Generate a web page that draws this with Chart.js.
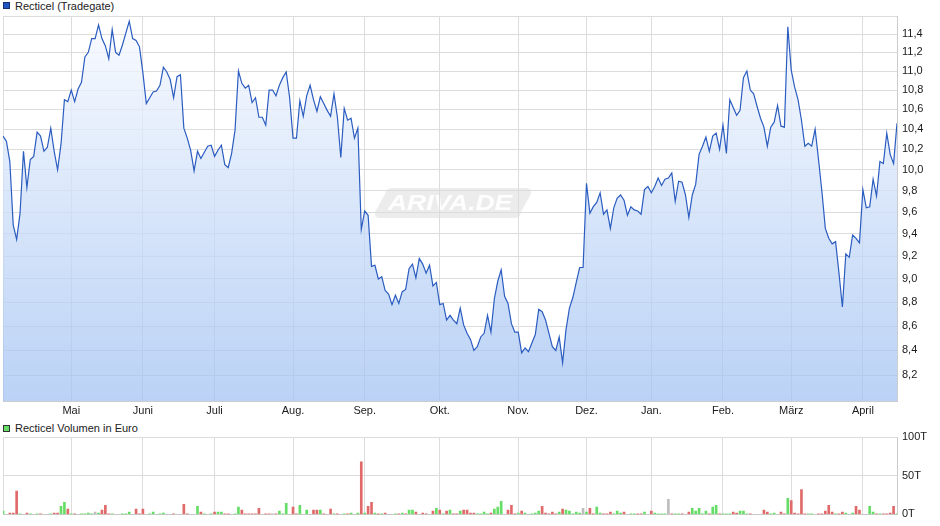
<!DOCTYPE html>
<html><head><meta charset="utf-8">
<script src="https://cdn.jsdelivr.net/npm/chart.js@4/dist/chart.umd.min.js"></script>
<style>
html,body{margin:0;padding:0;background:#fff;}
body{width:940px;height:526px;position:relative;overflow:hidden;font-family:"Liberation Sans",Arial,sans-serif;}
canvas{position:absolute;left:0;}
#c1{top:0;width:940px;height:420px;}
#c2{top:420px;width:940px;height:106px;}
.lg{position:absolute;left:15px;font-size:11px;color:#222;line-height:13px;white-space:nowrap;}
.sq{position:absolute;left:3px;width:5px;height:5px;border:1px solid #333;}
</style></head>
<body>
<div class="sq" style="top:2px;background:#1f55c0;border-color:#15306e"></div>
<div class="lg" style="top:0px">Recticel (Tradegate)</div>
<div class="sq" style="top:425px;background:#66dd66;border-color:#333"></div>
<div class="lg" style="top:422px">Recticel Volumen in Euro</div>
<canvas id="c1" width="940" height="420"></canvas>
<canvas id="c2" width="940" height="106"></canvas>
<script>
const priceValues = [
10.33,10.28,10.08,9.48,9.35,9.59,10.18,9.83,10.10,10.13,
10.37,10.33,10.18,10.22,10.41,10.18,10.00,10.25,10.70,10.68,
10.80,10.68,10.81,10.88,11.15,11.20,11.35,11.35,11.50,11.35,
11.27,11.13,11.45,11.20,11.17,11.28,11.41,11.54,11.35,11.33,
11.26,10.98,10.66,10.72,10.78,10.79,10.85,11.04,10.99,10.91,
10.72,10.94,10.96,10.41,10.31,10.19,9.99,10.18,10.11,10.17,
10.23,10.24,10.13,10.19,10.24,10.05,10.02,10.16,10.39,11.00,
10.87,10.82,10.85,10.67,10.72,10.52,10.52,10.44,10.80,10.80,
10.74,10.85,10.93,10.99,10.72,10.31,10.31,10.69,10.53,10.74,
10.85,10.70,10.58,10.73,10.66,10.59,10.53,10.76,10.52,10.12,
10.61,10.49,10.51,10.31,10.41,9.44,9.61,9.57,9.11,9.12,
9.00,9.02,8.90,8.87,8.78,8.86,8.79,8.89,8.91,9.09,
9.13,9.01,9.18,9.13,9.05,9.12,8.94,8.97,8.78,8.79,
8.65,8.69,8.65,8.62,8.75,8.61,8.54,8.49,8.40,8.43,
8.51,8.54,8.69,8.55,8.83,8.98,9.08,8.85,8.79,8.62,
8.55,8.55,8.38,8.42,8.39,8.46,8.53,8.74,8.72,8.65,
8.54,8.43,8.40,8.51,8.30,8.57,8.75,8.84,8.97,9.10,
9.10,9.87,9.59,9.65,9.69,9.78,9.58,9.62,9.45,9.64,
9.73,9.76,9.71,9.57,9.65,9.62,9.61,9.58,9.81,9.84,
9.78,9.84,9.92,9.85,9.91,9.92,9.97,9.70,9.89,9.88,
9.76,9.55,9.76,9.86,10.15,10.23,10.32,10.18,10.33,10.36,
10.20,10.44,10.16,10.70,10.62,10.54,10.59,10.93,11.00,10.80,
10.76,10.63,10.51,10.42,10.23,10.42,10.47,10.64,10.43,10.42,
11.48,11.01,10.83,10.70,10.49,10.23,10.26,10.23,10.40,10.10,
9.79,9.45,9.36,9.31,9.33,9.05,8.76,9.22,9.19,9.39,
9.36,9.32,9.81,9.64,9.65,9.91,9.75,10.08,10.06,10.36,
10.15,10.06,10.46
];
// volume in thousand euro (T)
const volumeValues = [
4.2,0,1.7,1.7,30,0.4,0,1.7,0.4,0,
0.4,0.4,0,0,0.4,1.7,1.7,10.5,15.6,6.8,
0.4,0.4,0,0.4,0.4,1.7,0.4,3,1.7,5.5,
11.8,0.4,0.4,0,0,0.4,0.4,3,0,6.8,
0.4,6.8,0,0.4,3,0,0.4,1.7,0,0,
0.4,0,0,13,0.4,0,0,10.5,3,0.4,
0,0.4,3,3,3,0.4,0.4,0,0.4,9.3,
5.5,0.4,0.4,0.4,0.4,8,0,0.4,0.4,0.4,
0.4,4.2,0.4,14.3,0,9.3,0.4,11.8,0,5.5,
0,5.5,5.5,5.5,0.4,0,6.8,0.4,0.4,0,
0.4,0.4,1.7,0,1.7,68,1.7,10.5,15.6,1.7,
0.4,0.4,1.7,0,0,0.4,0.4,1.7,0.4,5.5,
5.5,3,0,1.7,0.4,0,4.2,8,5.5,0.4,
4.2,5.5,0.4,0.4,4.2,5.5,5.5,1.7,1.7,0.4,
0.4,3,0.4,1.7,6.8,9.3,17,0,5.5,11.8,
0.4,1.7,4.2,1.7,0,0.4,1.7,4.2,10.5,1.7,
0.4,3,0.4,3,6.8,5.5,4.2,0.4,3,1.7,
8,3,8,0.4,9.3,1.7,0.4,0.4,3,0.4,
4.2,1.7,3,0,0.4,0.4,0.4,0.4,3,0,
4.2,1.7,0.4,0.4,0.4,19.4,0.4,0.4,0.4,0.4,
0,3,8,4.2,8,0.4,4.2,0.4,9.3,11.8,
0.4,0.4,0.4,0.4,3,1.7,4.2,4.2,0.4,0.4,
0,0,0,5.5,3,0.4,1.7,0,3,0.4,
20.7,18,1.7,0.4,32,0.4,0.4,0.4,0,0.4,
0.4,4.2,11.8,3,0.4,0.4,3,1.7,0,1.7,
10.5,5.5,0,0,10.5,3,0.4,0.4,0.4,0.4,
1.7,10.5,0.4
];
// 1 = up day, -1 = down day, 0 = unchanged
const volumeDirection = [
1,0,-1,-1,-1,1,0,-1,1,0,
1,-1,0,0,1,-1,-1,1,1,-1,
1,-1,0,1,1,1,1,0,1,-1,
-1,-1,1,0,0,1,1,1,0,-1,
-1,-1,0,1,1,0,1,1,0,0,
-1,0,0,-1,-1,0,0,1,-1,1,
0,1,-1,1,1,-1,-1,0,1,1,
-1,-1,-1,-1,-1,-1,0,-1,-1,0,
-1,1,1,1,0,-1,-1,1,0,1,
0,-1,-1,1,-1,0,-1,1,-1,0,
1,-1,1,0,1,-1,1,-1,-1,1,
-1,1,-1,0,0,1,-1,1,-1,1,
1,-1,0,-1,-1,0,-1,1,-1,1,
-1,1,-1,-1,1,-1,-1,-1,-1,1,
1,1,1,-1,1,1,1,0,-1,-1,
-1,1,-1,1,0,1,1,1,-1,-1,
-1,-1,-1,1,-1,1,1,1,1,1,
0,1,-1,-1,1,1,-1,-1,-1,1,
1,1,-1,0,1,1,-1,-1,1,0,
-1,1,1,1,1,0,-1,1,1,-1,
0,-1,1,1,1,1,1,-1,1,1,
-1,1,1,1,-1,-1,1,1,1,-1,
0,0,0,-1,-1,1,1,0,-1,-1,
1,-1,-1,-1,-1,-1,1,1,0,-1,
-1,-1,-1,-1,1,-1,-1,1,0,1,
-1,-1,0,0,1,1,-1,1,-1,-1,
-1,-1,1
];
const monthLabels = ['Mai','Juni','Juli','Aug.','Sep.','Okt.','Nov.','Dez.','Jan.','Feb.','März','April'];
const monthStartIndex = [20,41,62,85,106,128,151,171,190,211,231,252];
const priceGridTicks = [8.0,8.2,8.4,8.6,8.8,9.0,9.2,9.4,9.6,9.8,10.0,10.2,10.4,10.6,10.8,11.0,11.2,11.4,11.6];
const priceLabelTicks = [8.2,8.4,8.6,8.8,9.0,9.2,9.4,9.6,9.8,10.0,10.2,10.4,10.6,10.8,11.0,11.2,11.4];
const volumeTicks = [0,50,100];
const volumeTickLabels = ['0T','50T','100T'];

const N = priceValues.length;
const xGrid = [0].concat(monthStartIndex);
Chart.defaults.font.family = '"Liberation Sans", Arial, sans-serif';
Chart.defaults.font.size = 11;
Chart.defaults.color = '#1a1a1a';
const GRID = '#dcdcdc';

const watermark = {
  id: 'wm',
  beforeDraw(chart) {
    const c = chart.ctx;
    c.save();
    const x = 380, y = 188, w = 146, h = 30, r = 6, sk = 6;
    c.beginPath();
    c.moveTo(x + sk + r, y);
    c.lineTo(x + w + sk - r, y);
    c.quadraticCurveTo(x + w + sk, y, x + w + sk - 1, y + r);
    c.lineTo(x + w - sk + 1, y + h - r);
    c.quadraticCurveTo(x + w - sk, y + h, x + w - sk - r, y + h);
    c.lineTo(x - sk + r, y + h);
    c.quadraticCurveTo(x - sk, y + h, x - sk + 1, y + h - r);
    c.lineTo(x + sk - 1, y + r);
    c.quadraticCurveTo(x + sk, y, x + sk + r, y);
    c.closePath();
    c.fillStyle = 'rgba(0,0,0,0.075)';
    c.fill();
    c.font = 'italic bold 22px "Liberation Sans", Arial, sans-serif';
    c.fillStyle = 'rgba(255,255,255,0.95)';
    c.textBaseline = 'middle';
    c.translate(388, 204);
    c.scale(1.2, 1);
    c.fillText('ARIVA.DE', 0, 0);
    c.restore();
  }
};

function fillGradient(ctx) {
  const chart = ctx.chart;
  const a = chart.chartArea;
  if (!a) return 'rgba(200,215,245,0.6)';
  const g = chart.ctx.createLinearGradient(0, a.top, 0, a.bottom);
  g.addColorStop(0, 'rgba(249,251,255,0.8)');
  g.addColorStop(1, 'rgba(160,193,242,0.72)');
  return g;
}

new Chart(document.getElementById('c1'), {
  type: 'line',
  data: { datasets: [{
    data: priceValues.map((v, i) => ({ x: i, y: v })),
    borderColor: '#2b5cc0', borderWidth: 1.2, pointRadius: 0, tension: 0,
    fill: 'start', backgroundColor: fillGradient
  }]},
  options: {
    responsive: false, animation: false, events: [],
    layout: { padding: { left: 3, top: 16, right: 0, bottom: 0 } },
    plugins: { legend: { display: false }, tooltip: { enabled: false } },
    scales: {
      x: {
        type: 'linear', min: 0, max: N - 1,
        afterBuildTicks(s) { s.ticks = xGrid.map(v => ({ value: v })); },
        afterFit(s) { s.height = 19; },
        ticks: { autoSkip: false, maxRotation: 0, padding: 3,
          callback(v) { const k = monthStartIndex.indexOf(v); return k < 0 ? '' : monthLabels[k]; } },
        grid: { color: GRID, drawTicks: false },
        border: { display: true, color: '#cccccc' }
      },
      y: {
        type: 'logarithmic', position: 'right', min: 8.0, max: 11.6,
        afterBuildTicks(s) { s.ticks = priceGridTicks.map(v => ({ value: v })); },
        afterFit(s) { s.width = 43; },
        ticks: { autoSkip: false, padding: 5,
          callback(v) { return priceLabelTicks.some(t => Math.abs(t - v) < 1e-6) ? v.toFixed(1).replace('.', ',') : ''; } },
        grid: { color: GRID, drawTicks: false },
        border: { display: true, color: '#cccccc' }
      }
    }
  },
  plugins: [watermark]
});

new Chart(document.getElementById('c2'), {
  type: 'bar',
  data: { datasets: [{
    data: volumeValues.map((v, i) => ({ x: i, y: v })),
    backgroundColor: volumeDirection.map(d => d > 0 ? '#66dd66' : d < 0 ? '#e06a6a' : '#bdbdbd'),
    barThickness: 2, borderWidth: 0
  }]},
  options: {
    responsive: false, animation: false, events: [],
    layout: { padding: { left: 3, top: 17, right: 0, bottom: 10 } },
    plugins: { legend: { display: false }, tooltip: { enabled: false } },
    scales: {
      x: {
        type: 'linear', min: 0, max: N - 1, offset: false,
        afterBuildTicks(s) { s.ticks = xGrid.map(v => ({ value: v })); },
        afterFit(s) { s.height = 0; },
        ticks: { display: false },
        grid: { color: GRID, drawTicks: false, offset: false },
        border: { display: true, color: '#cccccc' }
      },
      y: {
        position: 'right', min: 0, max: 100,
        afterBuildTicks(s) { s.ticks = volumeTicks.map(v => ({ value: v })); },
        afterFit(s) { s.width = 43; },
        ticks: { padding: 5, callback(v) { const k = volumeTicks.indexOf(v); return k < 0 ? '' : volumeTickLabels[k]; } },
        grid: { color: GRID, drawTicks: false },
        border: { display: true, color: '#cccccc' }
      }
    }
  }
});
</script>
</body></html>
